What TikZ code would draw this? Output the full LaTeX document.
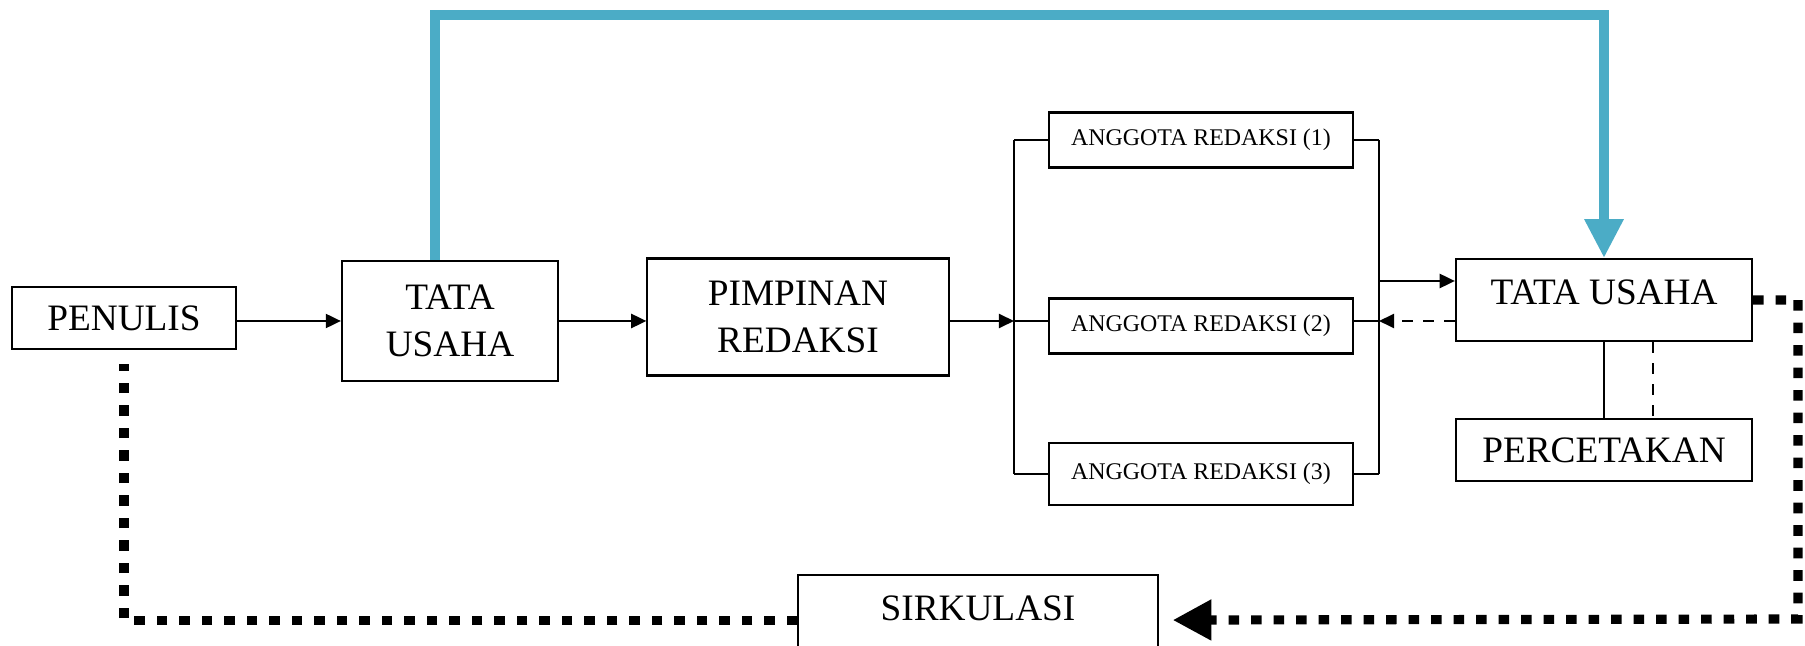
\documentclass[tikz,border=0pt]{standalone}
\usepackage{fontspec}
\setmainfont{Liberation Serif}
\usetikzlibrary{arrows.meta}
\definecolor{flowblue}{RGB}{75,172,198}
\begin{document}
\begin{tikzpicture}[x=0.01cm,y=-0.01cm,
    box/.style={draw,line width=0.6pt,inner sep=0pt,align=center,
      font=\fontsize{10.6}{13.4}\selectfont},
    smallbox/.style={box,minimum width=3.04cm,minimum height=0.55cm,
      font=\fontsize{6.8}{8}\selectfont},
    arr/.style={line width=0.6pt,-{Triangle[length=4.3pt,width=4pt]}},
    thin/.style={line width=0.5pt},
    dots/.style={line width=2.6pt,dash pattern=on 3pt off 3.4pt},
    blueline/.style={draw=flowblue,line width=2.6pt,
      -{Triangle[length=11pt,width=10.5pt,fill=flowblue]}}]
  \useasboundingbox (0,0) rectangle (1805,646);
  \node[box,minimum width=2.24cm,minimum height=0.62cm] (pen) at (124,318) {PENULIS};
  \node[box,minimum width=2.16cm,minimum height=1.2cm] (tu1) at (450,321) {TATA\\USAHA};
  \node[box,minimum width=3.01cm,minimum height=1.17cm] (pim) at (798,317) {PIMPINAN\\REDAKSI};
  \node[smallbox] (a1) at (1201,140) {ANGGOTA REDAKSI (1)};
  \node[smallbox] (a2) at (1201,326) {ANGGOTA REDAKSI (2)};
  \node[smallbox,minimum height=0.62cm] (a3) at (1201,474) {ANGGOTA REDAKSI (3)};
  \node[box,minimum width=2.96cm,minimum height=0.82cm,text depth=1.5mm] (tu2) at (1604,300) {TATA USAHA};
  \node[box,minimum width=2.96cm,minimum height=0.62cm] (per) at (1604,450) {PERCETAKAN};
  \node[box,minimum width=3.59cm,anchor=north,inner ysep=0.1cm,
    text height=0.35cm,text depth=0.6cm] (sirk) at (978,574) {SIRKULASI};
  % bus lines round the editors
  \coordinate (l1) at (1014,140);
  \coordinate (l2) at (1014,321);
  \coordinate (l3) at (1014,474);
  \coordinate (r0) at (1379,281);
  \coordinate (r1) at (1379,140);
  \coordinate (r2) at (1379,321);
  \coordinate (r3) at (1379,474);
  \coordinate (top) at (1604,15);
  \coordinate (rc) at (1798,619);
  \draw[thin] (l1) -- (l3);
  \draw[thin] (r1) -- (r3);
  \draw[thin] (l1) -- (a1) -- (r1);
  \draw[thin] (l2) -- (a2.west |- l2);
  \draw[thin] (a2.east |- r2) -- (r2);
  \draw[thin] (l3) -- (a3) -- (r3);
  % main flow
  \draw[arr] (pen.east |- l2) -- (tu1.west |- l2);
  \draw[arr] (tu1.east |- l2) -- (pim.west |- l2);
  \draw[arr] (pim.east |- l2) -- (l2);
  \draw[arr] (r0) -- (tu2.west |- r0);
  \draw[arr,dashed] (tu2.west |- r2) -- (r2);
  \draw[thin] (tu2.south) -- (per.north);
  \draw[thin,dashed] ([xshift=0.49cm]tu2.south) -- ([xshift=0.49cm]per.north);
  \draw[blueline] ([xshift=-0.15cm]tu1.north) |- (top) -- (tu2.north);
  \draw[dots,-{Triangle[length=11pt,width=11pt]},shorten >=4pt]
    (tu2.east) -| (rc) -- (sirk.base east);
  \draw[dots,shorten >=4pt] (sirk.base west) -| (pen.south);
\end{tikzpicture}
\end{document}
